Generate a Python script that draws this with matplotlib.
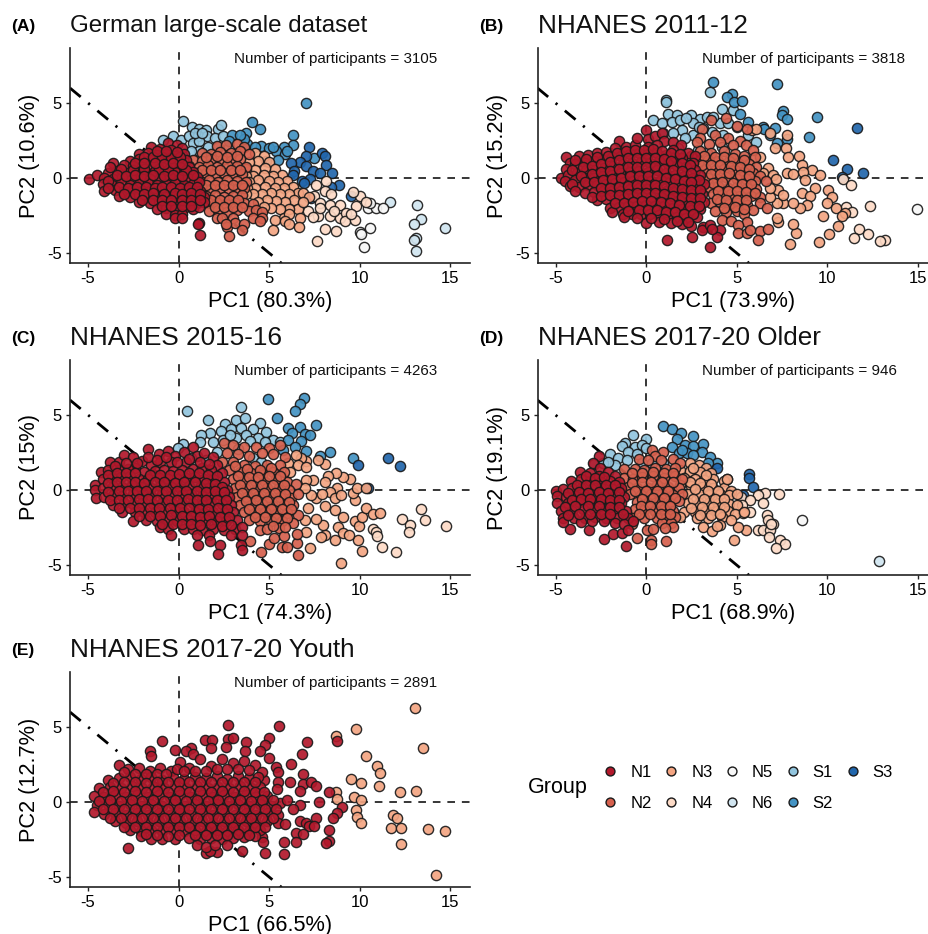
import matplotlib
matplotlib.use('Agg')
import matplotlib.pyplot as plt
from matplotlib.lines import Line2D

plt.rcParams['font.family'] = ['Liberation Sans', 'DejaVu Sans']
plt.rcParams['axes.unicode_minus'] = False

W, H = 929, 934

group_names = ['N1', 'N2', 'N3', 'N4', 'N5', 'N6', 'S1', 'S2', 'S3']
group_colors = ['#B2182B', '#D6604D', '#F4A582', '#FDDBC7', '#F7F7F7', '#D1E5F0', '#92C5DE', '#4393C3', '#2166AC']

titles = ['German large-scale dataset', 'NHANES 2011-12', 'NHANES 2015-16', 'NHANES 2017-20 Older', 'NHANES 2017-20 Youth']
title_sizes = [17.4, 18.8, 18.8, 18.8, 18.8]
tags = ['(A)', '(B)', '(C)', '(D)', '(E)']
counts = [3105, 3818, 4263, 946, 2891]
pc1_labels = ['PC1 (80.3%)', 'PC1 (73.9%)', 'PC1 (74.3%)', 'PC1 (68.9%)', 'PC1 (66.5%)']
pc2_labels = ['PC2 (10.6%)', 'PC2 (15.2%)', 'PC2 (15%)', 'PC2 (19.1%)', 'PC2 (12.7%)']

# --- A ---
a_n1 = [(-4.95,-.05),(-4.5,.2),(-.6,2.35),(-.1,2.2),(-1.5,2.05),(-1,1.95),(-.4,1.9),(.2,2),(-2.2,1.6),(-1.7,1.65),(-1.2,1.55),(-.7,1.6),(-.2,1.5),(.3,1.6),
 (-2.7,1.15),(-2.2,1.25),(-1.6,1.2),(-1.1,1.1),(-.6,1.2),(-.1,1.15),(.4,1.2),(-3.6,1),(-3,.85),(-2.5,.8),(-2,.75),(-1.4,.85),(-.9,.7),(-.4,.8),(.1,.75),(.6,.7),
 (-3.9,.35),(-3.4,.45),(-2.8,.35),(-2.3,.4),(-1.8,.3),(-1.3,.45),(-.8,.35),(-.2,.4),(.3,.3),(.8,.4),(-4.1,0),(-3.6,-.05),(-3.1,.05),(-2.6,-.05),(-2.1,.05),(-1.6,-.05),(-1,0),(-.5,.05),(0,-.05),(.5,0),(1,.05),
 (-4.2,-.4),(-3.7,-.45),(-3.2,-.35),(-2.7,-.45),(-2.2,-.4),(-1.7,-.35),(-1.2,-.45),(-.7,-.4),(-.2,-.35),(.3,-.45),(.8,-.4),(1.1,-.3),
 (-4.1,-.85),(-3.5,-.8),(-3,-.9),(-2.5,-.75),(-2,-.85),(-1.5,-.8),(-1,-.9),(-.4,-.8),(.1,-.85),(.6,-.8),(1.2,-.85),
 (-3.3,-1.2),(-2.7,-1.25),(-2.2,-1.15),(-1.7,-1.3),(-1.2,-1.2),(-.7,-1.25),(-.2,-1.15),(.4,-1.25),(.9,-1.2),(1.4,-1.25),
 (-2.2,-1.6),(-1.6,-1.7),(-1.1,-1.6),(-.5,-1.7),(0,-1.6),(.5,-1.65),(1,-1.7),(1.4,-1.6),(-1.2,-2.05),(-.7,-2),(-.2,-2.1),(.3,-2),(.8,-2.05),(1.1,-1.95),
 (-.7,-2.4),(-.2,-2.45),(.2,-2.4),(-.2,-2.7),(.2,-2.7),(1.15,-3),(1.05,-3.1),(1.2,-3.8),
 (-3.8,.7),(-3.2,.6),(-2.5,.55),(-1.9,.6),(-1.1,.6),(-.6,.55),(.4,.55),(-3.9,-.2),(-3.4,.2),(-2.9,.15),(-2.4,.2),(-1.9,.15),(-1.4,.2),(-.8,.15),(-.3,.2),(.2,.15),(.8,.2),(-3.9,-.65),(-3.3,-.6),(-2.8,-.65),(-2.3,-.6),(-1.8,-.6),(-1.3,-.65),(-.9,-.6),(-.4,-.6),(.1,-.65),(.6,-.6),(1,-.6),(-3,-1.05),(-2.4,-1.05),(-1.9,-1.05),(-1.4,-1),(-.8,-1.05),(-.2,-1),(.2,-1.05),(.7,-1),(1.2,-1.05),(-2,-1.45),(-1.4,-1.45),(-.9,-1.45),(-.4,-1.5),(.2,-1.45),(.7,-1.45),(1.2,-1.45),(-.9,-1.85),(-.4,-1.85),(.2,-1.85),(.7,-1.85),(-1.9,1.4),(-1.4,1.4),(-.9,1.4),(-.4,1.35),(.1,1.4),(-2.4,1),(-1.9,1),(-1.3,1),(-.8,.95),(-.3,1),(.2,.95),(-1.2,1.8),(-.7,1.8),(-.1,1.75)]
a_n2 = [(2.1,2.15),(2.6,2.2),(3.2,2.3),(3.6,2.1),(1.3,1.7),(1.8,1.6),(2.3,1.75),(2.9,1.65),(3.4,1.8),(3.9,1.6),(.8,1.2),(1.3,1.15),(1.8,1.25),(2.4,1.2),(2.9,1.15),(3.4,1.25),
 (.6,.8),(1.1,.75),(1.6,.85),(2.1,.75),(2.7,.85),(3.2,.8),(3.7,.75),(1,.3),(1.5,.35),(2,.25),(2.5,.35),(3,.3),(3.5,.25),(1.2,-.2),(1.7,-.15),(2.2,-.25),(2.7,-.15),(3.2,-.2),(3.7,-.25),
 (1.3,-.7),(1.8,-.75),(2.3,-.65),(2.8,-.75),(3.3,-.7),(3.6,-.65),(1.5,-1.2),(2,-1.15),(2.5,-1.25),(3,-1.2),(3.5,-1.15),(1.6,-1.7),(2.1,-1.65),(2.6,-1.75),(3.1,-1.7),(3.6,-1.65),(4.1,-1.75),
 (1.7,-2.2),(2.2,-2.15),(2.7,-2.25),(3.2,-2.15),(3.9,-2.2),(4.3,-2.15),(4.6,-2.25),(2.1,-2.65),(2.4,-2.7),(3,-2.65),(4.1,-2.7),(4.6,-2.65),(4.5,-2.85),(2.7,-3.3),(3.1,-3),(3.6,-3.1),(3.5,-3.5),(2.8,-3.85),(2.6,-3.1),
 (1.5,1.4),(2.1,1.45),(2.7,1.4),(3.2,1.45),(1.3,.55),(1.8,.55),(2.3,.55),(2.9,.55),(3.4,.5),(1.5,-.45),(2,-.5),(2.5,-.45),(3,-.45),(3.5,-.45),(1.8,-1.45),(2.3,-1.45),(2.8,-1.45),(3.3,-1.45),(2,-1.95),(2.5,-1.95),(3,-1.95),(3.5,-1.95)]
a_n3 = [(4.2,1.65),(4.7,1.5),(5,1.05),(4.4,1.1),(3.9,1.05),(5.3,.6),(4.8,.65),(4.2,.55),(3.7,.6),(5.7,.2),(5.2,.15),(4.7,.2),(4.1,.1),(3.7,.15),(6,-.2),(5.5,-.25),(5,-.2),(4.4,-.15),(3.9,-.3),
 (6.3,-.6),(5.8,-.65),(5.3,-.7),(4.8,-.6),(4.2,-.7),(3.8,-.7),(6.6,-1),(6.1,-1.05),(5.6,-1.1),(5.1,-1),(4.6,-1.1),(4.1,-1.05),(3.7,-1.1),(6.9,-1),(6.4,-1.5),(5.9,-1.6),(5.4,-1.55),(4.9,-1.5),(4.4,-1.6),
 (6.6,-2.1),(6.1,-2.05),(5.6,-2.05),(5.1,-2),(4.7,-1.95),(5.8,-2.7),(6.1,-2.4),(6.7,-2.7),(5.3,-2.8),(5.9,-2.85),(6.1,-3.1),(6.65,-3.3),(5.2,-3.5),(7.2,-1.3),(6.9,-1.6)]
a_n4 = [(7.6,-.44),(8.16,-.22),(7.5,-1.2),(8.07,-.9),(8.4,-1.1),(7.8,-1.67),(8.34,-1.78),(8.9,-1.78),(7.15,-2.2),(7.7,-2.56),(8.34,-2.56),(8.9,-2.67),(9.26,-2.33),(9.17,-2.9),(9.72,-2.78),(9.82,-1.9),(8.07,-3.4),(8.71,-3.56),(7.66,-4.18),(10,-1.22),(9.63,-.96),(10.37,-1.6),(7.4,-2.6),(7.8,-2),(8.6,-2.2),(9.5,-2.4)]
a_n5 = [(10.46,-2),(10.92,-2),(11.29,-2),(10.55,-1.67),(10,-3.62),(10.09,-3.73),(10.59,-3.31),(10.22,-4.62)]
a_n6 = [(11.69,-1.58),(13.17,-1.8),(13.37,-2.71),(12.98,-3.07),(14.7,-3.31),(13.13,-4),(13,-4.16),(13.09,-4.89)]
a_s1 = [(.25,3.8),(.75,3.4),(1.15,3.3),(1.5,3.2),(2.2,3.3),(2.35,3.55),(-.3,2.8),(-.85,2.55),(.15,2.55),(.6,2.8),(1.05,2.8),(1.55,2.8),(2,2.65),(2.45,2.8),(.8,2.35),(1.15,2.45),(1.6,2.1),(1.15,1.8),(.7,1.8),(2.15,2.1),(2.8,2.1),(.9,3),(1.3,3)]
a_s2 = [(7.05,4.98),(4.05,3.73),(4.5,3.3),(6.3,2.85),(3.75,3),(2.95,2.85),(6.3,2.2),(5.85,2.1),(5.4,1.8),(4.55,2.15),(3.8,2.3),(2.8,2.45),(4.85,1.1),(7.5,1.3),(5,2),(4.2,2.1),(5.9,1.6),(5.5,1.2),(3.6,2.6),(3.4,2.9),(5.2,2.05),(6,1.8)]
a_s3 = [(7.2,2.1),(7.9,1.7),(8.1,1.45),(7.05,1.45),(6.7,1.05),(6.2,1),(8.15,.85),(6.4,.45),(7.05,.8),(7.4,.45),(7.8,.3),(8.5,.3),(6.8,-.2),(7.25,-.1),(8.85,-.5),(9.55,-1.2),(7.3,-1.35),(6.3,.2),(8.4,-.6),(6.95,-.35)]

# --- B ---
b_n1 = [(-4.7,0),(-4.4,1.4),(-4.2,1),(-3.7,1.5),(-3.2,1.55),(-2.7,1.7),(-2.2,1.75),(-1.5,2.45),(-1.7,2),(-1.1,2.1),(-.6,2.2),(-.5,2.7),(0,3.2),(.1,2.6),(.5,2.8),(.9,3),(1,2.5),(.6,2.2),(.1,2.1),(1.5,2.4),(1.95,2.2),(1.5,1.9),(2.3,1.7),(2.7,1.5),
 (-4.4,.6),(-3.9,.9),(-3.4,1),(-2.9,1.1),(-2.4,1.2),(-1.9,1.4),(-1.4,1.5),(-.9,1.6),(-.4,1.65),(.1,1.6),(.6,1.7),(1.1,1.55),(1.6,1.4),(2,1.3),(2.6,1),
 (-4.3,.2),(-3.8,.35),(-3.3,.5),(-2.8,.5),(-2.3,.65),(-1.8,.8),(-1.3,.9),(-.8,1),(-.3,1.05),(.2,1),(.7,1.1),(1.2,.95),(1.7,.8),(2.2,.7),(2.7,.5),(3,.2),
 (-4.5,-.2),(-3.9,-.15),(-3.4,0),(-2.9,0),(-2.4,.1),(-1.9,.2),(-1.4,.3),(-.9,.4),(-.4,.45),(.1,.4),(.6,.5),(1.1,.3),(1.6,.2),(2.1,.15),(2.6,0),
 (-4.2,-.55),(-3.7,-.6),(-3.2,-.5),(-2.7,-.45),(-2.2,-.4),(-1.7,-.35),(-1.2,-.3),(-.7,-.2),(-.2,-.15),(.3,-.2),(.8,-.15),(1.3,-.3),(1.8,-.4),(2.3,-.5),(2.8,-.55),(3.2,-.4),
 (-3.4,-1),(-2.9,-.95),(-2.4,-.9),(-1.9,-.9),(-1.4,-.85),(-.9,-.75),(-.4,-.7),(.1,-.75),(.6,-.7),(1.1,-.85),(1.6,-.95),(2.1,-1),(2.6,-1.1),(3.1,-1.05),
 (-2.7,-1.45),(-2.2,-1.4),(-1.7,-1.45),(-1.2,-1.35),(-.7,-1.3),(-.2,-1.25),(.3,-1.3),(.8,-1.25),(1.3,-1.4),(1.8,-1.5),(2.3,-1.6),(2.8,-1.6),(3.2,-1.6),
 (-2,-2),(-1.5,-1.95),(-1,-1.9),(-.5,-1.85),(0,-1.8),(.5,-1.85),(1,-1.9),(1.5,-2),(2,-2.1),(2.5,-2.15),(3,-2.1),
 (-1.9,-2.25),(-1.3,-2.4),(-.8,-2.4),(-.3,-2.4),(.2,-2.4),(.7,-2.45),(1.2,-2.5),(1.7,-2.6),(2.2,-2.7),(2.8,-2.6),(-1.2,-2.6),(0,-3),(.7,-2.95),(1.4,-3),(2,-3.1),(2.5,-3.2),
 (1.14,-4.16),(2.52,-3.91),(3.55,-4.62),(3.17,-3.24),(3.07,-3.47),(3.55,-3.13),(4.09,-3.47),(3.9,-3.91),(3.65,-3.4),
 (-3.9,1.2),(-3.3,1.25),(-2.7,1.4),(-2.1,1.45),(-1.6,1.7),(-1.1,1.8),(-.6,1.9),(-.1,1.9),(.4,1.95),(.9,1.8),(1.35,1.7),(1.9,1.6),
 (-4.1,.55),(-3.5,.75),(-3,.8),(-2.5,.9),(-2,1.05),(-1.5,1.2),(-1,1.3),(-.5,1.35),(0,1.3),(.5,1.35),(1,1.25),(1.4,1.15),(2,1),(2.4,.85),
 (-4.1,-.4),(-3.6,.15),(-3,.25),(-2.5,.4),(-2,.45),(-1.5,.6),(-1,.7),(-.5,.75),(0,.7),(.5,.8),(1,.6),(1.5,.55),(2,.45),(2.5,.3),(2.9,-.15),
 (-3.9,-.85),(-3.4,-.3),(-2.9,-.25),(-2.4,-.15),(-1.9,-.1),(-1.4,.02),(-.9,.1),(-.4,.15),(.1,.1),(.6,.15),(1.1,.02),(1.6,-.1),(2.1,-.2),(2.5,-.3),
 (-3,-1.25),(-2.5,-.7),(-2,-.65),(-1.5,-.6),(-1,-.55),(-.5,-.45),(0,-.45),(.5,-.45),(1,-.55),(1.5,-.65),(2,-.75),(2.5,-.8),(3,-.8),
 (-2.5,-1.2),(-2,-1.15),(-1.5,-1.15),(-1,-1.1),(-.5,-1),(0,-1),(.5,-1),(1,-1.1),(1.5,-1.2),(2,-1.3),(2.5,-1.35),(3,-1.35),
 (-1.7,-1.7),(-1.2,-1.65),(-.7,-1.6),(-.2,-1.55),(.3,-1.55),(.8,-1.6),(1.3,-1.7),(1.8,-1.8),(2.4,-1.85),(2.9,-1.85),(-1,-2.2),(-.4,-2.15),(.1,-2.15),(.6,-2.15),(1.1,-2.25),(1.6,-2.3),(2.1,-2.4),(2.6,-2.4),(-.5,-2.7),(.3,-2.7),(1,-2.75),(1.7,-2.85),(2.3,-2.95)]
b_n2 = [(3.1,3.3),(3.6,3.9),(4.4,4),(5,3.5),(5.6,3.3),(3,2.7),(3.8,2.9),(4.5,2.7),(5.2,2.5),(2.8,2.4),(3.5,2.3),(4.1,2.4),(4.8,2.2),(5.5,2.2),(5.9,1.9),(2.5,1.5),(3,1.8),(3.6,1.7),(4.3,1.8),(4.9,1.6),(5.4,1.5),(6,1.4),
 (2.9,1.1),(3.4,1.2),(4,1.1),(4.6,1.1),(5.1,1),(5.7,.9),(6.1,.7),(3.3,.6),(3.8,.5),(4.3,.6),(4.9,.5),(5.4,.4),(5.9,.3),(6.3,.1),(3.4,0),(3.9,-.1),(4.4,.05),(5,-.05),(5.5,-.1),(6,-.2),(6.6,-.2),
 (3.5,-.6),(4,-.55),(4.5,-.65),(5,-.6),(5.6,-.7),(6.1,-.75),(3.7,-1.1),(4.2,-1.15),(4.7,-1.1),(5.2,-1.2),(5.8,-1.2),(6.3,-1.3),(3.6,-1.7),(4.1,-1.6),(4.6,-1.75),(5.1,-1.7),(5.6,-1.8),(6.3,-1.69),(6.67,-2.02),(5.93,-2.13),
 (3.8,-2.2),(4.4,-2.3),(5,-2.2),(5.4,-2.4),(4.18,-2.8),(4.7,-2.9),(5.56,-2.91),(5.1,-3.13),(5.1,-3.69),(5.56,-3.69),(6.3,-3.53),(6.72,-3.42),(6.2,-4.13),(5.75,-3.47),
 (3.2,1.45),(3.8,1.4),(4.3,1.4),(4.8,1.35),(5.4,1.2),(3.1,.85),(3.6,.85),(4.1,.85),(4.7,.8),(5.2,.7),(5.7,.6),(3.6,.25),(4.1,.25),(4.6,.3),(5.2,.2),(5.7,.1),(3.7,-.35),(4.2,-.3),(4.8,-.35),(5.3,-.4),(5.8,-.4),(4,-.85),(4.5,-.9),(5,-.85),(5.5,-.95),(6,-1),(3.9,-1.4),(4.4,-1.45),(5,-1.45),(5.5,-1.5),(4.3,-2),(4.9,-1.95),(5.4,-2.1)]
b_n3 = [(7.77,2.87),(7.13,1.98),(7.72,1.98),(7.85,1.42),(8.45,1.47),(8.6,.87),(9.15,.53),(8.69,.42),(9.61,.2),(6.76,.64),(7.77,.31),(8.14,.27),(8.78,-.13),(9.34,-.69),(8.6,-1.02),(9.06,-1.2),(10.07,-.8),(10.26,-1.24),(9.98,-1.69),(8.88,-1.8),(8.51,-2.02),(9.8,-2.51),(10.5,-2.02),(11,-2.36),(10.81,-2.56),(10.63,-3.2),(10.13,-3.73),(9.58,-4.24),(7.96,-4.4),(8.29,-3.64),(8.1,-3.09),(7.31,-2.91),(7.22,-2.69),(7.59,-1.69),(8.14,-1.69),(7.22,-1.69),(6.85,-1.24),(7.31,-.8),(6.85,-.69),(7.59,-1.13),(6.48,.31),(6.3,1.42),(5.84,3.2),(6.1,3.24),(6.85,2.98),(7.0,.2),(7.2,-.1)]
b_n4 = [(10.9,-.09),(11.33,-.47),(12.38,-1.84),(11.06,-1.91),(11.37,-2.29),(11.74,-3.42),(12.25,-3.73),(11.51,-3.98),(13.18,-4.13),(12.93,-4.2)]
b_n5 = [(14.95,-2.07)]
b_n6 = []
b_s1 = [(3.54,5.76),(1.1,5.2),(1.1,5.1),(1.23,4.27),(1.69,4.2),(.4,3.87),(.86,3.64),(1.41,3.76),(1.87,3.87),(2.47,4.2),(2.98,3.93),(3.35,4.04),(4.18,4.6),(4.82,4.53),(2.58,3.64),(1.97,3.2),(2.62,2.87),(1.51,2.98),(2.16,2.64),(.96,2.98),(1.79,1.98),(2.89,1.87),(3.35,1.64),(3.35,1.31),(4.18,2.09),(4.27,2.87),(3.63,3.09),(4.09,3.64),(5.65,2.87),(6.06,2.42),(4.53,3.64),(3.17,3.31),(5,3.42),(3.7,4.05),(2.2,4),(2.9,3.4)]
b_s2 = [(3.72,6.42),(7.22,6.24),(4.73,5.6),(4.45,5.38),(4.88,5.09),(5.32,5.16),(5.19,4.27),(7.59,4.47),(7.5,4.2),(7.81,3.91),(9.47,4.04),(5.65,3.76),(6.48,3.42),(7.13,3.33),(6.54,3.27),(7.77,2.6),(7.26,2.36),(8.99,2.71),(6.85,2.87)]
b_s3 = [(11.68,3.31),(10.31,1.2),(11.09,.58),(11.97,.36),(10.81,.09)]

# --- C ---
c_n1 = [(-4.6,.3),(-4.6,0),(-4.55,-.55),(-4.3,1.2),(-3.8,1.9),(-3.3,1.9),(-3,2.35),(-2.5,2.2),(-2,1.95),(-1.7,2.75),(-1.1,2.4),(-.6,2.6),(-.2,2.3),(.3,2.55),(.8,2.9),(1,2.3),(1.4,2.5),(1.9,2.2),(2.1,1.7),(.4,1.9),(-.4,1.85),(-1,1.85),(-1.5,1.7),(-2.4,1.5),
 (-3.9,1.3),(-3.3,1.35),(-2.8,1.4),(-1.9,1.2),(-1.3,1.25),(-.8,1.3),(-.3,1.25),(.2,1.35),(.8,1.4),(1.3,1.5),(1.8,1.3),(2.4,1.1),(-4.2,.7),(-3.7,.8),(-3.2,.85),(-2.7,.9),(-2.2,.75),(-1.7,.7),(-1.1,.8),(-.6,.7),(-.1,.75),(.4,.8),(.9,.85),(1.4,.75),(1.9,.7),(2.5,.5),
 (-4.2,.1),(-3.6,.25),(-3.1,.2),(-2.6,.3),(-2.1,.2),(-1.5,.15),(-1,.25),(-.4,.2),(.1,.15),(.6,.25),(1.2,.2),(1.7,.1),(2.2,.15),(2.7,0),(-4.1,-.45),(-3.6,-.35),(-3.1,-.4),(-2.5,-.3),(-2,-.35),(-1.5,-.4),(-.9,-.3),(-.4,-.4),(.2,-.35),(.7,-.3),(1.3,-.4),(1.8,-.45),(2.3,-.35),(2.8,-.5),
 (-3.6,-1),(-3,-.9),(-2.5,-.95),(-2,-.85),(-1.4,-.95),(-.9,-.85),(-.3,-.95),(.2,-.9),(.8,-.85),(1.3,-1),(1.8,-.9),(2.4,-.95),(2.9,-1),(-3.1,-1.5),(-2.4,-1.45),(-1.9,-1.5),(-1.3,-1.45),(-.8,-1.5),(-.2,-1.4),(.3,-1.5),(.9,-1.45),(1.4,-1.55),(1.9,-1.45),(2.5,-1.55),(3,-1.5),
 (-2.5,-2.05),(-1.8,-2),(-1.2,-2.05),(-.6,-2),(-.1,-2.1),(.5,-2),(1,-2.1),(1.5,-2),(2.1,-2.05),(2.6,-2.1),(3.2,-2),(-1,-2.5),(-.6,-2.6),(-.4,-3),(.3,-2.6),(.8,-2.6),(1.3,-2.65),(1.9,-2.6),(2.5,-2.7),(3.1,-2.6),(3.5,-2.5),(1,-3),(1.7,-3),(2.9,-3),(3.5,-3),
 (1.05,-3.7),(2.3,-3.7),(1.75,-3.4),(3.45,-3.7),(3.5,-4),(2.2,-4.3),
 (-3.5,1.6),(-2.9,1.8),(-2.3,1.8),(-1.7,2.2),(-1.2,2),(-.7,2.2),(-.1,1.9),(.6,2.1),(1.2,1.9),(1.7,1.75),(-3.9,1),(-3.4,1.1),(-2.9,1.15),(-2.4,1.1),(-1.6,1),(-1,1),(-.5,1),(0,1.05),(.6,1.1),(1.1,1.1),(1.6,1),(2.1,.95),
 (-3.9,.45),(-3.4,.5),(-2.9,.55),(-2.4,.5),(-1.9,.45),(-1.3,.5),(-.8,.5),(-.2,.45),(.3,.5),(.9,.5),(1.5,.45),(2,.4),(2.4,.2),(-3.9,-.15),(-3.3,-.1),(-2.8,-.05),(-2.3,-.05),(-1.8,-.1),(-1.2,-.1),(-.7,-.05),(-.1,-.1),(.4,-.05),(1,-.1),(1.5,-.15),(2,-.1),(2.5,-.15),
 (-3.8,-.7),(-3.3,-.65),(-2.8,-.65),(-2.2,-.6),(-1.7,-.6),(-1.2,-.65),(-.6,-.65),(-.1,-.65),(.5,-.6),(1,-.65),(1.5,-.7),(2.1,-.7),(2.6,-.7),(-3.3,-1.2),(-2.7,-1.2),(-2.2,-1.2),(-1.6,-1.2),(-1.1,-1.2),(-.5,-1.2),(.1,-1.2),(.6,-1.2),(1.1,-1.25),(1.6,-1.25),(2.2,-1.2),(2.7,-1.25),
 (-2.2,-1.75),(-1.6,-1.75),(-1,-1.75),(-.4,-1.7),(.2,-1.75),(.7,-1.75),(1.2,-1.8),(1.7,-1.75),(2.3,-1.8),(2.8,-1.8),(-.9,-2.25),(-.3,-2.3),(.2,-2.3),(.7,-2.3),(1.2,-2.35),(1.8,-2.3),(2.4,-2.4),(2.9,-2.35)]
c_n2 = [(2.5,3.15),(3,3),(3.6,2.9),(4.3,2.9),(5,2.8),(5.6,3),(2.7,2.5),(3.3,2.4),(3.9,2.3),(4.6,2.5),(5.2,2.4),(5.9,2.2),(2.4,1.9),(3,1.9),(3.6,1.7),(4.2,1.6),(4.9,1.7),(5.6,1.7),(2.8,1.3),(3.4,1.2),(4,1.1),(4.6,1),(5.2,1.2),(5.8,1.2),(3,.7),(3.6,.6),(4.2,.6),(4.8,.5),(5.4,.7),(6,.5),(6.5,.4),
 (3.1,.1),(3.7,.05),(4.3,0),(4.9,.1),(5.5,.05),(6.1,0),(3.2,-.45),(3.8,-.5),(4.4,-.4),(5,-.5),(5.6,-.45),(6.2,-.55),(6.6,-.3),(3.4,-1),(4,-1),(4.6,-.95),(5.2,-1.05),(5.8,-1),(6.3,-1),(3.6,-1.5),(4.2,-1.55),(4.8,-1.5),(5.4,-1.6),(6,-1.55),(6.6,-1.67),
 (3.9,-2),(4.5,-2.1),(5.1,-2.05),(5.7,-2.1),(6.3,-2.2),(5.57,-2.56),(4.47,-2.67),(4.9,-2.6),(4.53,-4.11),(3.92,-3.4),(5.02,-3.6),(5.72,-3.78),(6,-3.78),(6.53,-3.53),(6.6,-4.33),(5.25,-3.2),(5.8,-3.1),(6.55,-2.93),
 (3.1,1.6),(3.8,1.4),(4.5,1.35),(5.1,1.5),(3.3,.95),(3.9,.85),(4.4,.85),(5,.9),(5.6,.9),(3.4,.35),(4,.3),(4.6,.3),(5.2,.3),(5.8,.3),(3.5,-.2),(4.1,-.2),(4.7,-.2),(5.3,-.2),(5.9,-.25),(3.7,-.75),(4.3,-.7),(4.9,-.75),(5.5,-.75),(6.1,-.8),(3.9,-1.25),(4.5,-1.25),(5.1,-1.3),(5.7,-1.3),(6.2,-1.3),(4.2,-1.8),(4.8,-1.8),(5.4,-1.85),(6,-1.85),(5.2,-2.4),(5.9,-2.5)]
c_n3 = [(8.99,-4.89),(10.15,-4.07),(7.24,-3.89),(9.91,-3.33),(8.62,-3.33),(8.07,-3),(7.88,-3.11),(7.05,-2.82),(7.97,-2.31),(7.61,-1.93),(6.96,-1.98),(9.08,-1.82),(9.72,-2.04),(9.96,-2.42),(8.8,-2.44),(9.08,-2.89),(9.41,-3),(10.13,-1.82),(10.37,-1.18),(10.74,-1.6),(11.1,-1.51),(9.72,-.67),(9.63,-.22),(9.87,.16),(10.37,.11),(8.75,.11),(9.45,.73),(9.08,.89),(8.67,1.11),(8.25,.9),(8.07,.56),(7.42,.67),(7.02,.67),(7.6,-.53),(8.34,-.11),(8.62,-.56),(8.99,-.33),(8.07,-1.09),(8.62,-1.31),(7.15,-1.2),(7.33,-.33),(8.07,1.76),(7.7,2),(7.05,1.93),(6.78,2.11),(6.5,2.33),(6.04,1.78),(6.6,1.64),(7.05,1.56),(6.13,1.22),(7,.1),(7.9,-.3)]
c_n4 = [(13.41,-1.29),(12.36,-1.96),(12.76,-2.33),(13.59,-2.02),(12.73,-2.82),(14.79,-2.42),(11.99,-4.11),(11.25,-3.8),(10.74,-2.62),(10.92,-2.78),(10.98,-3.07)]
c_n5 = []
c_n6 = []
c_s1 = [(.46,5.29),(1.62,4.67),(3.46,5.51),(3.19,4.67),(3.65,4.78),(2.54,4.38),(4.48,4.44),(2.91,4.07),(3.46,4.11),(4.1,4.07),(2.36,3.91),(1.71,3.78),(1.25,3.67),(4.84,3.84),(3.19,3.44),(3.74,3.67),(4.4,3.44),(1.9,3.18),(1.16,3.18),(.24,3.04),(-.04,2.82),(2.46,3.33),(5.2,3.33),(3.28,2.73),(3.92,3.27),(2.1,2.56),(4.1,2.11),(.7,2.11),(4.57,1.89),(4.44,1.11),(1.53,2),(4.75,3.22),(2.82,3.67),(5.58,3.18)]
c_s2 = [(4.93,6.09),(6.92,6.16),(6.69,5.71),(6.41,5.27),(5.41,4.78),(7.61,4.33),(6.02,4.16),(6.72,4.22),(6.26,3.82),(6.96,3.71),(7.24,3.67),(6.04,3.31),(6.77,3.24),(5.76,2.67),(6.44,2.84),(7.06,2.6),(8.34,2.56),(7.79,2.27),(9.63,2.16)]
c_s3 = [(11.57,2.16),(12.25,1.58),(9.91,1.64),(10.46,.16)]

# --- D ---
d_n1 = [(-2.58,2.27),(-2.91,1.82),(-2.54,1.44),(-3.65,1.22),(-4.16,.62),(-5,-.1),(-4.2,-2.62),(-3.15,-2.67),(-2.3,-3.27),(-1.84,-2.93),(-1.1,-3.73),(-1.34,-2.89),
 (-3.1,1.15),(-2.6,.95),(-2.1,1.2),(-1.7,.95),(-3.6,.7),(-3.1,.6),(-2.5,.5),(-2,.6),(-1.5,.5),(-4.6,.05),(-4.1,.1),(-3.6,.15),(-3,.05),(-2.5,.1),(-1.9,.05),(-1.4,.1),(-4.9,-.4),(-4.4,-.5),(-3.9,-.4),(-3.4,-.5),(-2.9,-.45),(-2.3,-.4),(-1.8,-.5),(-1.2,-.45),
 (-4.9,-.9),(-4.3,-.9),(-3.7,-.8),(-3.1,-.9),(-2.6,-.85),(-2,-.9),(-1.4,-.85),(-4.7,-1.4),(-4.1,-1.4),(-3.5,-1.3),(-2.9,-1.35),(-2.3,-1.4),(-1.8,-1.35),(-1.1,-1.4),(-4.6,-1.9),(-4,-1.85),(-3.4,-1.9),(-2.8,-1.8),(-2.2,-1.85),(-1.6,-1.9),(-1,-1.85),
 (-4.6,-2.15),(-3.6,-2.15),(-3,-2.1),(-2.3,-2.05),(-1.7,-2.2),(-1.2,-2.3),(-.7,-2.1),(-1,-2.7),
 (-3.3,.95),(-2.8,.8),(-2.3,.85),(-3.8,.35),(-3.3,.35),(-2.8,.3),(-2.2,.3),(-1.7,.3),(-4.3,-.2),(-3.7,-.15),(-3.2,-.2),(-2.6,-.15),(-2.1,-.2),(-1.5,-.15),(-4.1,-.65),(-3.6,-.6),(-3.1,-.6),(-2.5,-.6),(-2,-.65),(-1.5,-.65),(-4.5,-1.15),(-3.9,-1.1),(-3.2,-1.1),(-2.6,-1.1),(-2,-1.15),(-1.5,-1.15),(-4.3,-1.65),(-3.7,-1.6),(-3.1,-1.6),(-2.5,-1.6),(-2,-1.6),(-1.3,-1.6)]
d_n2 = [(.31,2.67),(.96,2.51),(.5,2.3),(-.4,2.1),(.1,2),(.8,2),(1.5,2.1),(1.9,1.8),(-1.2,1.4),(-.6,1.4),(-.1,1.35),(.5,1.5),(1.1,1.4),(1.6,1.5),(-1.2,.8),(-.7,.7),(-.2,.85),(.4,.9),(1,.8),(1.6,.9),(2,.7),
 (-1,.2),(-.5,.15),(.1,.1),(.6,.3),(1.2,.2),(1.8,.15),(-.9,-.3),(-.3,-.35),(.3,-.3),(.9,-.25),(1.5,-.35),(2,-.3),(-.5,-.8),(.1,-.85),(.7,-.8),(1.3,-.85),(1.8,-.75),(-.6,-1.3),(-.1,-1.35),(.5,-1.4),(1,-1.3),(1.5,-1.4),(-.7,-1.9),(-.1,-1.85),(.6,-1.9),(1.1,-1.85),(1.6,-1.8),(-.8,-2.3),(.9,-2.2),(1.4,-2.2),
 (-.48,-3.22),(.26,-3.33),(.26,-3.62),(1.1,-3.4),(.04,-2.67),(.4,-2.6),(1.5,-2.5),(1.05,-2.55),
 (-.8,1.1),(-.2,1.1),(.4,1.2),(1,1.1),(1.5,1.15),(-.8,.45),(-.2,.5),(.3,.55),(.9,.5),(1.5,.5),(-.6,-.05),(0,-.1),(.6,-.05),(1.2,-.05),(-.2,-.6),(.4,-.55),(1,-.55),(1.6,-.55),(-.3,-1.1),(.2,-1.1),(.8,-1.05),(1.3,-1.1),(-.4,-1.6),(.2,-1.6),(.8,-1.6),(1.3,-1.6)]
d_n3 = [(2.4,1.8),(2.9,1.7),(3.3,1.5),(1.9,1.3),(2.4,1.25),(3,1.2),(3.6,1.1),(2.1,.8),(2.7,.75),(3.2,.65),(3.7,.7),(4.3,.6),(1.9,.3),(2.5,.25),(3.1,.2),(3.7,.15),(4.3,.1),(4.7,-.05),(2.3,-.3),(2.9,-.3),(3.5,-.35),(4.1,-.3),(4.6,-.35),(5,-.3),
 (2.3,-.9),(2.9,-.85),(3.5,-.9),(4,-.85),(4.6,-.95),(5,-1),(2.1,-1.5),(2.7,-1.5),(3.3,-1.4),(3.9,-1.4),(4.5,-1.4),(4.9,-1.6),(5.4,-1.5),(1.9,-1.8),(2.8,-1.9),(3.4,-1.85),(4.2,-1.8),(4.09,-2.33),(3.17,-2.44),(3.63,-2.71),(3.9,-2.4),(4.88,-3.33),(5.52,-2.67),(5.1,-2.44),(4.7,-2),(4.46,.73),
 (2.6,1.5),(3.3,1),(2.4,.5),(3,.45),(3.6,.4),(2.7,.05),(3.4,-.05),(4,-.05),(2.6,-.6),(3.2,-.6),(3.8,-.6),(4.3,-.6),(2.5,-1.2),(3.1,-1.15),(3.7,-1.15),(4.3,-1.15),(3,-1.65),(3.6,-1.65),(4.1,-1.6)]
d_n4 = [(7.37,-.27),(6.57,-.18),(6.2,-.33),(6.48,-.89),(5.23,-.44),(5.75,-.67),(5.29,-1),(5.75,-1.44),(5.38,-1.56),(6.7,-1.67),(6.76,-2),(7.03,-2.29),(6.2,-2.67),(6.48,-2.67),(6.85,-2.67),(6.81,-3.11),(7.4,-3.33),(7.68,-3.62),(7.18,-3.89),(6.9,-2.3)]
d_n5 = [(8.6,-2)]
d_n6 = [(12.89,-4.71)]
d_s1 = [(-.74,3.67),(-.02,3.38),(-1.16,3.11),(-1.34,2.96),(-.61,2.89),(-.24,3),(-.98,2.56),(-1.99,2.38),(-1.53,2.11),(-2.36,1.78),(-2.87,1.73),(-1.71,1.67),(-.24,1.78),(.92,1.82),(.31,1.78),(-1.07,2),(-2.08,1.89),(-.5,2.4),(0,2.8)]
d_s2 = [(.96,4.27),(1.42,4.04),(1.93,3.78),(2.58,3.58),(1.69,3.4),(3.17,3.07),(1.42,2.89),(2.16,3),(2.58,2.96),(1.8,2.44),(2.26,2.44),(3.08,2.56),(3.54,2.22),(3.9,1.82),(1.97,2.67),(2.58,2.33),(3.44,1.78),(4.46,.73)]
d_s3 = [(5.69,1.07),(5.71,.78),(5.89,.22),(5.38,-.33),(3.9,1.44)]

# --- E ---
e_n1 = [(2.71,5.13),(5.54,5.04),(-.94,4.09),(7.09,3.98),(8.75,4.07),(4.99,4.24),(1.45,4.13),(1.86,4.13),(2.73,4.2),(3,4.24),(3.7,4.02),(4.75,3.8),(4.48,3.4),(4.99,2.96),(6.81,3.18),(6.22,2.56),(5.4,2.36),(5.5,2.02),(6.88,1.87),(6.13,1.36),(4.7,1.47),(5.5,1.35),(6.88,1.18),(7.33,1.31),(7.57,1.09),(6.72,.76),(8.31,.69),(5.43,.84),(4.51,1.02),(7.75,-.02),(6.72,-.2),(6.32,-.49),(9.04,-.31),(8.77,-.71),(8.53,-1.04),(7.61,-1.09),(6.69,-1.24),(7.02,-1.38),(7.2,-1.6),(7.46,-1.58),(8.31,-1.87),(6.5,-2.09),(6.87,-2.13),(5.8,-2.64),(6.46,-2.64),(8.31,-2.58),(8.13,-2.71),(5.82,-3.49),(4.75,-3.38),(3.52,-3.27),(-2.8,-3.04),(4.6,-2.31),(4.66,-2.64),(1.53,-3.42),(2.12,-3.36),(1.71,-3.27),(-1.57,3.4),(-1.51,3.09),(-.22,3.44),(.7,3.58),(.42,3.4),(.79,3.18),(1.8,3.58),(2.63,3.69),(3.65,3.4),
 (-3.3,2.5),(-2.8,2.2),(-2.2,2.25),(-1.6,2.1),(-1,2.3),(-.4,2.05),(.1,2.7),(.6,2.3),(1.2,2.85),(1.8,2.4),(2.4,2.9),(3,2.6),(3.6,2.75),(4.2,2.5),(4.6,2),(-3.9,1.5),(-3.3,1.6),(-2.7,1.7),(-2.1,1.55),(-1.5,1.7),(-.9,1.5),(-.3,1.7),(.3,1.55),(.9,1.7),(1.5,1.6),(2.1,1.75),(2.7,1.55),(3.3,1.75),(3.9,1.6),(4.4,1.7),
 (-4.4,.9),(-3.8,1),(-3.2,.95),(-2.6,1.05),(-2,.9),(-1.4,1),(-.8,.95),(-.2,1.05),(.4,.9),(1,1.05),(1.6,.95),(2.2,1),(2.8,.9),(3.4,1.05),(4,.95),(-4.7,.4),(-4.1,.35),(-3.5,.45),(-2.9,.35),(-2.3,.45),(-1.7,.35),(-1.1,.45),(-.5,.35),(.1,.45),(.7,.35),(1.3,.45),(1.9,.35),(2.5,.45),(3.1,.35),(3.7,.45),(4.3,.35),(4.9,.4),
 (-4.5,-.2),(-3.9,-.15),(-3.3,-.25),(-2.7,-.15),(-2.1,-.25),(-1.5,-.15),(-.9,-.25),(-.3,-.15),(.3,-.25),(.9,-.15),(1.5,-.25),(2.1,-.15),(2.7,-.25),(3.3,-.15),(3.9,-.25),(4.5,-.15),(5.1,-.25),(5.6,-.1),(6,.15),(-4.7,-.65),(-4.1,-.8),(-3.5,-.75),(-2.9,-.85),(-2.3,-.75),(-1.7,-.85),(-1.1,-.75),(-.5,-.85),(.1,-.75),(.7,-.85),(1.3,-.75),(1.9,-.85),(2.5,-.75),(3.1,-.85),(3.7,-.75),(4.3,-.85),(4.9,-.75),(5.5,-.85),
 (-3.5,-1.3),(-2.9,-1.4),(-2.3,-1.3),(-1.7,-1.4),(-1.1,-1.3),(-.5,-1.4),(.1,-1.3),(.7,-1.4),(1.3,-1.3),(1.9,-1.4),(2.5,-1.3),(3.1,-1.4),(3.7,-1.3),(4.3,-1.4),(4.9,-1.3),(5.5,-1.4),(5.9,-1.5),(-2.7,-1.85),(-2.1,-1.95),(-1.5,-1.85),(-.9,-1.95),(-.3,-1.85),(.3,-1.95),(.9,-1.85),(1.5,-1.95),(2.1,-1.85),(2.7,-1.95),(3.3,-1.85),(3.9,-1.95),(4.5,-1.9),
 (-2.1,-2.3),(-1.5,-2.45),(-.9,-2.5),(-.2,-2.5),(.6,-2.4),(1.2,-2.5),(1.8,-2.4),(2.4,-2.5),(3,-2.4),(3.6,-2.35),(4.2,-2.3),(1,-2.85),(1.5,-3),(2,-2.9),(2.7,-2.9),
 (-3,2),(-2.4,1.85),(-1.8,1.9),(-1.2,1.9),(-.7,1.85),(-.1,2.2),(.3,2.1),(.9,2.1),(1.5,2.1),(2.1,2.2),(2.7,2.2),(3.3,2.2),(3.9,2.15),(-3.6,1.25),(-3,1.3),(-2.4,1.35),(-1.8,1.25),(-1.2,1.3),(-.6,1.3),(0,1.3),(.6,1.3),(1.2,1.35),(1.8,1.35),(2.4,1.3),(3,1.35),(3.6,1.3),(4.2,1.3),
 (-4.2,.65),(-3.6,.7),(-3,.65),(-2.4,.7),(-1.8,.65),(-1.2,.7),(-.6,.65),(0,.7),(.6,.65),(1.2,.7),(1.8,.65),(2.4,.7),(3,.65),(3.6,.7),(4.2,.65),(4.7,.65),(-4.4,.05),(-3.8,.1),(-3.2,.05),(-2.6,.1),(-2,.05),(-1.4,.1),(-.8,.05),(-.2,.1),(.4,.05),(1,.1),(1.6,.05),(2.2,.1),(2.8,.05),(3.4,.1),(4,.05),(4.6,.1),(5.2,.1),
 (-4.2,-.5),(-3.6,-.45),(-3,-.5),(-2.4,-.45),(-1.8,-.5),(-1.2,-.45),(-.6,-.5),(0,-.45),(.6,-.5),(1.2,-.45),(1.8,-.5),(2.4,-.45),(3,-.5),(3.6,-.45),(4.2,-.5),(4.8,-.45),(5.4,-.5),(-3.8,-1.05),(-3.2,-1.1),(-2.6,-1.05),(-2,-1.1),(-1.4,-1.05),(-.8,-1.1),(-.2,-1.05),(.4,-1.1),(1,-1.05),(1.6,-1.1),(2.2,-1.05),(2.8,-1.1),(3.4,-1.05),(4,-1.1),(4.6,-1.05),(5.2,-1.1),
 (-3,-1.65),(-2.4,-1.65),(-1.8,-1.65),(-1.2,-1.65),(-.6,-1.65),(0,-1.65),(.6,-1.65),(1.2,-1.65),(1.8,-1.65),(2.4,-1.65),(3,-1.65),(3.6,-1.65),(4.2,-1.65),(4.8,-1.65),(-1.8,-2.15),(-1.2,-2.2),(-.6,-2.25),(0,-2.2),(.9,-2.2),(1.5,-2.2),(2.1,-2.2),(2.7,-2.2),(3.3,-2.15),(3.9,-2.2)]
e_n3 = [(13.04,6.24),(9.82,4.84),(8.71,4.42),(13.5,3.58),(10.37,3.09),(10.96,2.42),(11.1,1.96),(9.54,1.51),(10.06,1.24),(11.07,1.07),(8.67,.69),(12.25,.64),(13.09,.73),(9.67,.36),(10.09,.11),(8.75,.2),(9.82,-.53),(9.87,-.98),(11.84,-.87),(12.06,-1.09),(10.06,-1.42),(11.71,-1.76),(12.27,-1.76),(13.76,-1.78),(14.7,-1.91),(12.27,-2.8),(14.24,-4.87)]

panels = [
    [a_n1, a_n2, a_n3, a_n4, a_n5, a_n6, a_s1, a_s2, a_s3],
    [b_n1, b_n2, b_n3, b_n4, b_n5, b_n6, b_s1, b_s2, b_s3],
    [c_n1, c_n2, c_n3, c_n4, c_n5, c_n6, c_s1, c_s2, c_s3],
    [d_n1, d_n2, d_n3, d_n4, d_n5, d_n6, d_s1, d_s2, d_s3],
    [e_n1, [], e_n3, [], [], [], [], [], []],
]

# left, right, top, bottom in pixels
boxes = [(70, 470, 48, 263), (538, 929, 48, 263), (70, 470, 360, 575), (538, 929, 360, 575), (70, 470, 672, 887)]
xlims = [(-6, 16.1), (-5.97, 15.63), (-6, 16.1), (-5.97, 15.63), (-6, 16.1)]
ylim = (-5.67, 8.67)

# S groups first, N1 stays on top
draw_order = [6, 7, 8, 5, 4, 3, 2, 1, 0]

fig = plt.figure(figsize=(W / 100, H / 100), dpi=100)

for i in range(5):
    l, r, t, b = boxes[i]
    ax = fig.add_axes([l / W, 1 - b / H, (r - l) / W, (b - t) / H])
    ax.set_xlim(xlims[i])
    ax.set_ylim(ylim)
    ax.axhline(0, color='black', lw=1.1, dashes=(5, 4.5), zorder=1)
    ax.axvline(0, color='black', lw=1.1, dashes=(5, 4.5), zorder=1)
    ax.plot([-6, 5.8], [6, -5.8], color='black', lw=2.0, dashes=(5, 3.5, 0.8, 3.5), zorder=1)
    for g in draw_order:
        pts = panels[i][g]
        if pts:
            xs = [p[0] for p in pts]
            ys = [p[1] for p in pts]
            ax.scatter(xs, ys, s=54, c=group_colors[g], edgecolors='#1a1a1a', linewidths=1.0, alpha=0.92,
                       zorder=2 + draw_order.index(g), clip_on=False)
    for s in ['top', 'right']:
        ax.spines[s].set_visible(False)
    for s in ['left', 'bottom']:
        ax.spines[s].set_linewidth(1.2)
        ax.spines[s].set_color('#222222')
    ax.set_xticks([-5, 0, 5, 10, 15])
    ax.set_yticks([-5, 0, 5])
    ax.tick_params(labelsize=12, length=3, width=1, color='#222222', pad=3)
    ax.set_xlabel(pc1_labels[i], fontsize=15.7, labelpad=3)
    ax.set_ylabel(pc2_labels[i], fontsize=15.7, labelpad=5)
    fig.text((234 + l - 70) / W, 1 - (t + 11) / H, 'Number of participants = %d' % counts[i], fontsize=10.9, va='center', color='#111111')
    fig.text(l / W, 1 - (t - 22) / H, titles[i], fontsize=title_sizes[i], va='center', ha='left', color='#111111')
    fig.text((l - 59) / W, 1 - (t - 22) / H, tags[i], fontsize=12.5, fontweight='bold', va='center', ha='left')

handles = [Line2D([], [], ls='', marker='o', ms=6.4, mfc=c, mec='#1a1a1a', mew=1.0) for c in group_colors]
fig.legend(handles, group_names, ncol=5, loc='center left', bbox_to_anchor=(602 / W, 1 - 788 / H), frameon=False,
           fontsize=12, handlelength=1, handletextpad=0.7, columnspacing=0.67, labelspacing=0.95, borderpad=0, borderaxespad=0)
fig.text(528 / W, 1 - 788 / H, 'Group', fontsize=15.5, va='center', ha='left')

fig.savefig('out.png', dpi=100)
